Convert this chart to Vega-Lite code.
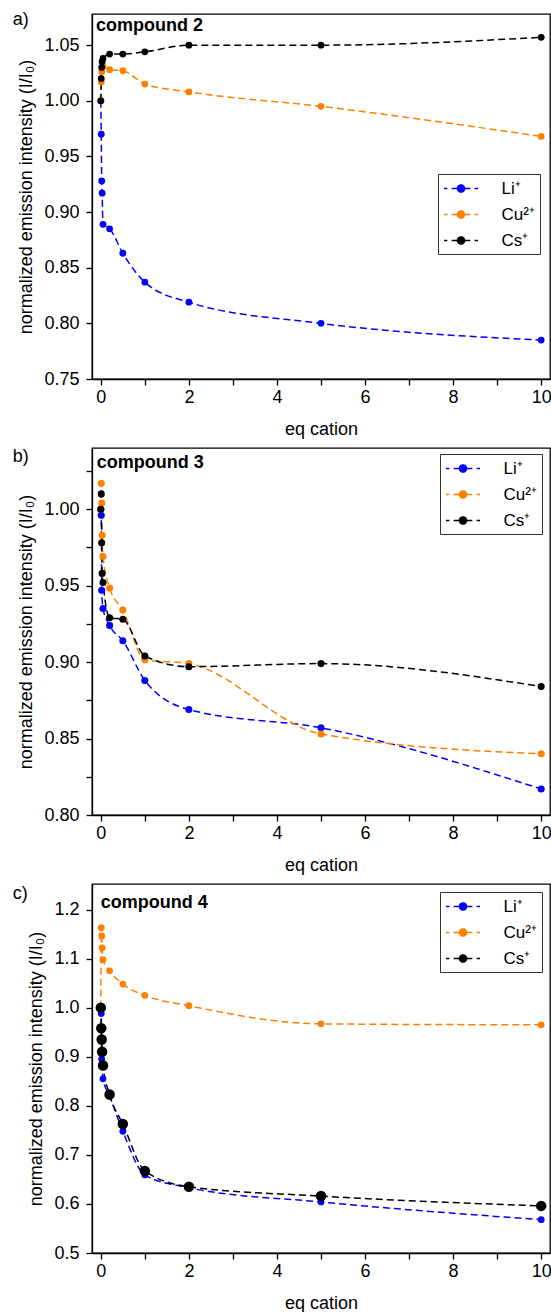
{
  "$schema": "https://vega.github.io/schema/vega-lite/v6.json",
  "background": "white",
  "padding": {"left": 12, "top": 9, "right": 0, "bottom": 0},
  "spacing": 8,
  "config": {
    "font": "Liberation Sans",
    "view": {"stroke": "#000", "strokeWidth": 1.3},
    "axis": {
      "grid": false,
      "domainColor": "#000",
      "domainWidth": 1.3,
      "tickColor": "#000",
      "tickWidth": 1.3,
      "tickSize": 6,
      "labelColor": "#000",
      "labelFontSize": 18,
      "labelFont": "Liberation Sans",
      "titleColor": "#000",
      "titleFontSize": 18,
      "titleFont": "Liberation Sans",
      "titleFontWeight": "normal",
      "labelFlush": false,
      "labelOverlap": false
    },
    "legend": {
      "labelFontSize": 17,
      "labelFont": "Liberation Sans",
      "labelColor": "#000",
      "strokeColor": "#333",
      "fillColor": "white",
      "padding": 5,
      "rowPadding": 8,
      "symbolType": "M-2,0H-1.6M-1.1,0H-0.44M0.44,0H1.1M1.6,0H2M-0.42,0A0.42,0.42,0,1,0,0.42,0A0.42,0.42,0,1,0,-0.42,0Z",
      "symbolSize": 289,
      "symbolOffset": 8.5,
      "symbolStrokeWidth": 1.5,
      "labelOffset": 31,
      "orient": "none"
    }
  },
  "resolve": {"legend": {"color": "independent"}},
  "datasets": {
    "pts": [
      {"panel": "a", "ion": "Li⁺", "eq": 0, "v": 1.0},
      {"panel": "a", "ion": "Li⁺", "eq": 0.01, "v": 0.97},
      {"panel": "a", "ion": "Li⁺", "eq": 0.02, "v": 0.928},
      {"panel": "a", "ion": "Li⁺", "eq": 0.03, "v": 0.917},
      {"panel": "a", "ion": "Li⁺", "eq": 0.05, "v": 0.889},
      {"panel": "a", "ion": "Li⁺", "eq": 0.2, "v": 0.885},
      {"panel": "a", "ion": "Li⁺", "eq": 0.5, "v": 0.863},
      {"panel": "a", "ion": "Li⁺", "eq": 1, "v": 0.837},
      {"panel": "a", "ion": "Li⁺", "eq": 2, "v": 0.819},
      {"panel": "a", "ion": "Li⁺", "eq": 5, "v": 0.8},
      {"panel": "a", "ion": "Li⁺", "eq": 10, "v": 0.785},
      {"panel": "a", "ion": "Cu²⁺", "eq": 0, "v": 1.0},
      {"panel": "a", "ion": "Cu²⁺", "eq": 0.01, "v": 1.017},
      {"panel": "a", "ion": "Cu²⁺", "eq": 0.02, "v": 1.026},
      {"panel": "a", "ion": "Cu²⁺", "eq": 0.05, "v": 1.031},
      {"panel": "a", "ion": "Cu²⁺", "eq": 0.2, "v": 1.028},
      {"panel": "a", "ion": "Cu²⁺", "eq": 0.5, "v": 1.027},
      {"panel": "a", "ion": "Cu²⁺", "eq": 1, "v": 1.015},
      {"panel": "a", "ion": "Cu²⁺", "eq": 2, "v": 1.008},
      {"panel": "a", "ion": "Cu²⁺", "eq": 5, "v": 0.995},
      {"panel": "a", "ion": "Cu²⁺", "eq": 10, "v": 0.968},
      {"panel": "a", "ion": "Cs⁺", "eq": 0, "v": 1.0},
      {"panel": "a", "ion": "Cs⁺", "eq": 0.01, "v": 1.02},
      {"panel": "a", "ion": "Cs⁺", "eq": 0.02, "v": 1.03},
      {"panel": "a", "ion": "Cs⁺", "eq": 0.03, "v": 1.035},
      {"panel": "a", "ion": "Cs⁺", "eq": 0.05, "v": 1.038},
      {"panel": "a", "ion": "Cs⁺", "eq": 0.2, "v": 1.042},
      {"panel": "a", "ion": "Cs⁺", "eq": 0.5, "v": 1.042},
      {"panel": "a", "ion": "Cs⁺", "eq": 1, "v": 1.044},
      {"panel": "a", "ion": "Cs⁺", "eq": 2, "v": 1.05},
      {"panel": "a", "ion": "Cs⁺", "eq": 5, "v": 1.05},
      {"panel": "a", "ion": "Cs⁺", "eq": 10, "v": 1.057},

      {"panel": "b", "ion": "Li⁺", "eq": 0, "v": 1.0},
      {"panel": "b", "ion": "Li⁺", "eq": 0.01, "v": 0.996},
      {"panel": "b", "ion": "Li⁺", "eq": 0.02, "v": 0.947},
      {"panel": "b", "ion": "Li⁺", "eq": 0.05, "v": 0.935},
      {"panel": "b", "ion": "Li⁺", "eq": 0.2, "v": 0.924},
      {"panel": "b", "ion": "Li⁺", "eq": 0.5, "v": 0.914},
      {"panel": "b", "ion": "Li⁺", "eq": 1, "v": 0.888},
      {"panel": "b", "ion": "Li⁺", "eq": 2, "v": 0.869},
      {"panel": "b", "ion": "Li⁺", "eq": 5, "v": 0.857},
      {"panel": "b", "ion": "Li⁺", "eq": 10, "v": 0.817},
      {"panel": "b", "ion": "Cu²⁺", "eq": 0, "v": 1.0},
      {"panel": "b", "ion": "Cu²⁺", "eq": 0.01, "v": 1.017},
      {"panel": "b", "ion": "Cu²⁺", "eq": 0.02, "v": 1.004},
      {"panel": "b", "ion": "Cu²⁺", "eq": 0.03, "v": 0.983},
      {"panel": "b", "ion": "Cu²⁺", "eq": 0.05, "v": 0.969},
      {"panel": "b", "ion": "Cu²⁺", "eq": 0.2, "v": 0.9485},
      {"panel": "b", "ion": "Cu²⁺", "eq": 0.5, "v": 0.934},
      {"panel": "b", "ion": "Cu²⁺", "eq": 1, "v": 0.9015},
      {"panel": "b", "ion": "Cu²⁺", "eq": 2, "v": 0.899},
      {"panel": "b", "ion": "Cu²⁺", "eq": 5, "v": 0.853},
      {"panel": "b", "ion": "Cu²⁺", "eq": 10, "v": 0.84},
      {"panel": "b", "ion": "Cs⁺", "eq": 0, "v": 1.0},
      {"panel": "b", "ion": "Cs⁺", "eq": 0.01, "v": 1.01},
      {"panel": "b", "ion": "Cs⁺", "eq": 0.02, "v": 0.978},
      {"panel": "b", "ion": "Cs⁺", "eq": 0.03, "v": 0.958},
      {"panel": "b", "ion": "Cs⁺", "eq": 0.05, "v": 0.952},
      {"panel": "b", "ion": "Cs⁺", "eq": 0.2, "v": 0.929},
      {"panel": "b", "ion": "Cs⁺", "eq": 0.5, "v": 0.928},
      {"panel": "b", "ion": "Cs⁺", "eq": 1, "v": 0.904},
      {"panel": "b", "ion": "Cs⁺", "eq": 2, "v": 0.897},
      {"panel": "b", "ion": "Cs⁺", "eq": 5, "v": 0.899},
      {"panel": "b", "ion": "Cs⁺", "eq": 10, "v": 0.884},

      {"panel": "c", "ion": "Li⁺", "eq": 0, "v": 1.0},
      {"panel": "c", "ion": "Li⁺", "eq": 0.01, "v": 0.988},
      {"panel": "c", "ion": "Li⁺", "eq": 0.02, "v": 0.895},
      {"panel": "c", "ion": "Li⁺", "eq": 0.05, "v": 0.855},
      {"panel": "c", "ion": "Li⁺", "eq": 0.2, "v": 0.82},
      {"panel": "c", "ion": "Li⁺", "eq": 0.5, "v": 0.748},
      {"panel": "c", "ion": "Li⁺", "eq": 1, "v": 0.659},
      {"panel": "c", "ion": "Li⁺", "eq": 2, "v": 0.633},
      {"panel": "c", "ion": "Li⁺", "eq": 5, "v": 0.604},
      {"panel": "c", "ion": "Li⁺", "eq": 10, "v": 0.568},
      {"panel": "c", "ion": "Cu²⁺", "eq": 0, "v": 1.0},
      {"panel": "c", "ion": "Cu²⁺", "eq": 0.01, "v": 1.163},
      {"panel": "c", "ion": "Cu²⁺", "eq": 0.02, "v": 1.146},
      {"panel": "c", "ion": "Cu²⁺", "eq": 0.03, "v": 1.122},
      {"panel": "c", "ion": "Cu²⁺", "eq": 0.05, "v": 1.098},
      {"panel": "c", "ion": "Cu²⁺", "eq": 0.2, "v": 1.075},
      {"panel": "c", "ion": "Cu²⁺", "eq": 0.5, "v": 1.048},
      {"panel": "c", "ion": "Cu²⁺", "eq": 1, "v": 1.025},
      {"panel": "c", "ion": "Cu²⁺", "eq": 2, "v": 1.004},
      {"panel": "c", "ion": "Cu²⁺", "eq": 5, "v": 0.967},
      {"panel": "c", "ion": "Cu²⁺", "eq": 10, "v": 0.965},
      {"panel": "c", "ion": "Cs⁺", "eq": 0, "v": 1.0},
      {"panel": "c", "ion": "Cs⁺", "eq": 0.01, "v": 0.958},
      {"panel": "c", "ion": "Cs⁺", "eq": 0.02, "v": 0.935},
      {"panel": "c", "ion": "Cs⁺", "eq": 0.03, "v": 0.91},
      {"panel": "c", "ion": "Cs⁺", "eq": 0.05, "v": 0.882},
      {"panel": "c", "ion": "Cs⁺", "eq": 0.2, "v": 0.823},
      {"panel": "c", "ion": "Cs⁺", "eq": 0.5, "v": 0.763},
      {"panel": "c", "ion": "Cs⁺", "eq": 1, "v": 0.667},
      {"panel": "c", "ion": "Cs⁺", "eq": 2, "v": 0.635},
      {"panel": "c", "ion": "Cs⁺", "eq": 5, "v": 0.616},
      {"panel": "c", "ion": "Cs⁺", "eq": 10, "v": 0.596}
    ]
  },
  "vconcat": [
    {
      "width": 458,
      "height": 365,
      "layer": [
        {
          "data": {"name": "pts"},
          "transform": [{"filter": "datum.panel === 'a'"}],
          "mark": {"type": "line", "strokeDash": [7, 4], "strokeWidth": 1.5, "interpolate": "monotone"},
          "encoding": {
            "x": {"field": "eq", "type": "quantitative", "scale": {"domain": [-0.2, 10.2], "nice": false, "zero": false},
              "axis": {"title": "eq cation", "values": [0,1,2,3,4,5,6,7,8,9,10], "labelExpr": "datum.value % 2 === 0 ? datum.label : ''", "labelPadding": 3, "titlePadding": 14,
                "encode": {"ticks": {"update": {"y2": {"signal": "datum.value % 2 === 0 ? 6 : 3"}}}}}},
            "y": {"field": "v", "type": "quantitative", "scale": {"domain": [0.75, 1.078], "nice": false, "zero": false},
              "axis": {"title": "normalized emission intensity (I/I₀)", "values": [0.75,0.775,0.8,0.825,0.85,0.875,0.9,0.925,0.95,0.975,1,1.025,1.05,1.075],
                "labelExpr": "round(datum.value*1000) % 50 === 0 ? format(datum.value, '.2f') : ''", "labelPadding": 7, "titlePadding": 8,
                "encode": {"ticks": {"update": {"x2": {"signal": "round(datum.value*1000) % 50 === 0 ? -6 : -3"}}}}}},
            "color": {"field": "ion", "type": "nominal", "scale": {"domain": ["Li⁺", "Cu²⁺", "Cs⁺"], "range": ["#0000ff", "#ff8000", "#000000"]},
              "legend": {"title": null, "orient": "none", "legendX": 346, "legendY": 160,
                "encode": {"symbols": {"update": {"fill": {"scale": "color", "field": "value"}, "stroke": {"scale": "color", "field": "value"}, "strokeDash": {"value": [1, 0]}, "opacity": {"value": 1}}}}}}
          }
        },
        {
          "data": {"name": "pts"},
          "transform": [{"filter": "datum.panel === 'a'"}],
          "mark": {"type": "point", "filled": true, "opacity": 1, "size": 46},
          "encoding": {
            "x": {"field": "eq", "type": "quantitative"},
            "y": {"field": "v", "type": "quantitative"},
            "color": {"field": "ion", "type": "nominal"}
          }
        },
        {
          "data": {"values": [{}]},
          "mark": {"type": "text", "align": "left", "baseline": "middle", "fontSize": 18, "color": "#000"},
          "encoding": {"x": {"datum": -2.0}, "y": {"datum": 1.073}, "text": {"value": "a)"}}
        },
        {
          "data": {"values": [{}]},
          "mark": {"type": "text", "align": "left", "baseline": "middle", "fontSize": 18, "fontWeight": "bold", "color": "#000"},
          "encoding": {"x": {"datum": -0.11}, "y": {"datum": 1.067}, "text": {"value": "compound 2"}}
        }
      ]
    },
    {
      "width": 458,
      "height": 367,
      "layer": [
        {
          "data": {"name": "pts"},
          "transform": [{"filter": "datum.panel === 'b'"}],
          "mark": {"type": "line", "strokeDash": [7, 4], "strokeWidth": 1.5, "interpolate": "monotone"},
          "encoding": {
            "x": {"field": "eq", "type": "quantitative", "scale": {"domain": [-0.2, 10.2], "nice": false, "zero": false},
              "axis": {"title": "eq cation", "values": [0,1,2,3,4,5,6,7,8,9,10], "labelExpr": "datum.value % 2 === 0 ? datum.label : ''", "labelPadding": 3, "titlePadding": 14,
                "encode": {"ticks": {"update": {"y2": {"signal": "datum.value % 2 === 0 ? 6 : 3"}}}}}},
            "y": {"field": "v", "type": "quantitative", "scale": {"domain": [0.8, 1.04], "nice": false, "zero": false},
              "axis": {"title": "normalized emission intensity (I/I₀)", "values": [0.8,0.825,0.85,0.875,0.9,0.925,0.95,0.975,1,1.025],
                "labelExpr": "round(datum.value*1000) % 50 === 0 ? format(datum.value, '.2f') : ''", "labelPadding": 7, "titlePadding": 8,
                "encode": {"ticks": {"update": {"x2": {"signal": "round(datum.value*1000) % 50 === 0 ? -6 : -3"}}}}}},
            "color": {"field": "ion", "type": "nominal",
              "legend": {"title": null, "orient": "none", "legendX": 348, "legendY": 6,
                "encode": {"symbols": {"update": {"fill": {"scale": "color", "field": "value"}, "stroke": {"scale": "color", "field": "value"}, "strokeDash": {"value": [1, 0]}, "opacity": {"value": 1}}}}}}
          }
        },
        {
          "data": {"name": "pts"},
          "transform": [{"filter": "datum.panel === 'b'"}],
          "mark": {"type": "point", "filled": true, "opacity": 1, "size": 50},
          "encoding": {
            "x": {"field": "eq", "type": "quantitative"},
            "y": {"field": "v", "type": "quantitative"},
            "color": {"field": "ion", "type": "nominal"}
          }
        },
        {
          "data": {"values": [{}]},
          "mark": {"type": "text", "align": "left", "baseline": "middle", "fontSize": 18, "color": "#000"},
          "encoding": {"x": {"datum": -2.0}, "y": {"datum": 1.034}, "text": {"value": "b)"}}
        },
        {
          "data": {"values": [{}]},
          "mark": {"type": "text", "align": "left", "baseline": "middle", "fontSize": 18, "fontWeight": "bold", "color": "#000"},
          "encoding": {"x": {"datum": -0.09}, "y": {"datum": 1.0302}, "text": {"value": "compound 3"}}
        }
      ]
    },
    {
      "width": 458,
      "height": 369,
      "layer": [
        {
          "data": {"name": "pts"},
          "transform": [{"filter": "datum.panel === 'c'"}],
          "mark": {"type": "line", "strokeDash": [7, 4], "strokeWidth": 1.5, "interpolate": "monotone"},
          "encoding": {
            "x": {"field": "eq", "type": "quantitative", "scale": {"domain": [-0.2, 10.2], "nice": false, "zero": false},
              "axis": {"title": "eq cation", "values": [0,1,2,3,4,5,6,7,8,9,10], "labelExpr": "datum.value % 2 === 0 ? datum.label : ''", "labelPadding": 3, "titlePadding": 14,
                "encode": {"ticks": {"update": {"y2": {"signal": "datum.value % 2 === 0 ? 6 : 3"}}}}}},
            "y": {"field": "v", "type": "quantitative", "scale": {"domain": [0.5, 1.252], "nice": false, "zero": false},
              "axis": {"title": "normalized emission intensity (I/I₀)", "values": [0.5,0.55,0.6,0.65,0.7,0.75,0.8,0.85,0.9,0.95,1,1.05,1.1,1.15,1.2],
                "labelExpr": "round(datum.value*1000) % 100 === 0 ? format(datum.value, '.1f') : ''", "labelPadding": 7, "titlePadding": 8,
                "encode": {"ticks": {"update": {"x2": {"signal": "round(datum.value*1000) % 100 === 0 ? -6 : -3"}}}}}},
            "color": {"field": "ion", "type": "nominal",
              "legend": {"title": null, "orient": "none", "legendX": 348, "legendY": 8,
                "encode": {"symbols": {"update": {"fill": {"scale": "color", "field": "value"}, "stroke": {"scale": "color", "field": "value"}, "strokeDash": {"value": [1, 0]}, "opacity": {"value": 1}}}}}}
          }
        },
        {
          "data": {"name": "pts"},
          "transform": [{"filter": "datum.panel === 'c' && datum.ion !== 'Cs⁺'"}],
          "mark": {"type": "point", "filled": true, "opacity": 1, "size": 46},
          "encoding": {
            "x": {"field": "eq", "type": "quantitative"},
            "y": {"field": "v", "type": "quantitative"},
            "color": {"field": "ion", "type": "nominal"}
          }
        },
        {
          "data": {"name": "pts"},
          "transform": [{"filter": "datum.panel === 'c' && datum.ion === 'Cs⁺'"}],
          "mark": {"type": "point", "filled": true, "opacity": 1, "size": 110},
          "encoding": {
            "x": {"field": "eq", "type": "quantitative"},
            "y": {"field": "v", "type": "quantitative"},
            "color": {"field": "ion", "type": "nominal"}
          }
        },
        {
          "data": {"values": [{}]},
          "mark": {"type": "text", "align": "left", "baseline": "middle", "fontSize": 18, "color": "#000"},
          "encoding": {"x": {"datum": -2.0}, "y": {"datum": 1.232}, "text": {"value": "c)"}}
        },
        {
          "data": {"values": [{}]},
          "mark": {"type": "text", "align": "left", "baseline": "middle", "fontSize": 18, "fontWeight": "bold", "color": "#000"},
          "encoding": {"x": {"datum": 0.0}, "y": {"datum": 1.214}, "text": {"value": "compound 4"}}
        }
      ]
    }
  ]
}
